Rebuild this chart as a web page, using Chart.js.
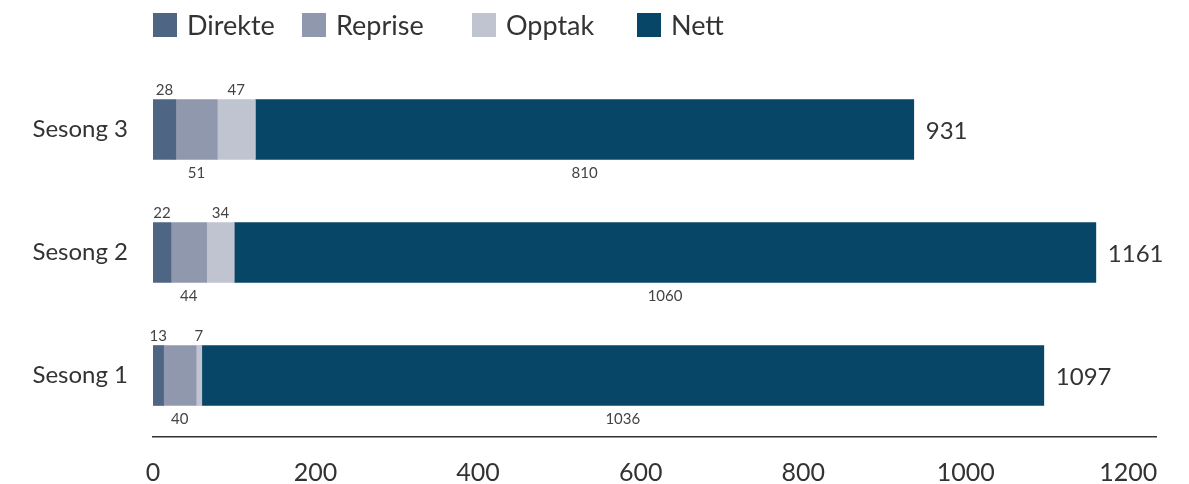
<!DOCTYPE html>
<html lang="no">
<head>
    <meta charset="UTF-8">
    <title>Sesonger</title>
    <script src="https://cdn.jsdelivr.net/npm/chart.js"></script>
    <style>
        body {
            margin: 0;
            background: #ffffff;
            font-family: 'Lato', sans-serif;
        }
        .wrap {
            position: relative;
            width: 1189px;
            height: 484px;
        }
        #legend {
            position: absolute;
            top: 12px;
            left: 153px;
            display: flex;
            color: #333333;
            font-size: 27px;
            line-height: 26px;
        }
        #legend .item {
            display: flex;
            align-items: center;
        }
        #legend .item:nth-child(1) { width: 149px; }
        #legend .item:nth-child(2) { width: 170px; }
        #legend .item:nth-child(3) { width: 165px; }
        #legend .box {
            width: 24px;
            height: 24px;
            margin-right: 10px;
        }
    </style>
</head>
<body>
<div class="wrap">
    <div id="legend"></div>
    <canvas id="chart" width="1189" height="484"></canvas>
</div>
<script>
    // data
    const categories = ['Sesong 3', 'Sesong 2', 'Sesong 1'];
    const seriesNames = ['Direkte', 'Reprise', 'Opptak', 'Nett'];
    const direkte = [28, 22, 13];
    const reprise = [51, 44, 40];
    const opptak = [47, 34, 7];
    const nett = [810, 1060, 1036];
    const totals = [931, 1161, 1097];
    const xTicks = [0, 200, 400, 600, 800, 1000, 1200];

    const colors = ['#4f6584', '#8f98ad', '#c0c4d0', '#084667'];
    // where each series' value label goes: above or below the bar
    const labelSide = ['above', 'below', 'above', 'below'];

    // legend
    const legendEl = document.getElementById('legend');
    seriesNames.forEach((name, i) => {
        const item = document.createElement('div');
        item.className = 'item';
        item.innerHTML = '<span class="box" style="background:' + colors[i] + '"></span>' + name;
        legendEl.appendChild(item);
    });

    // draws the small numbers on the segments and the totals
    const valueLabels = {
        id: 'valueLabels',
        afterDatasetsDraw(chart) {
            const ctx = chart.ctx;
            ctx.save();
            ctx.fillStyle = '#444444';
            ctx.font = '15px Lato';
            ctx.textAlign = 'center';
            chart.data.datasets.forEach((ds, di) => {
                const meta = chart.getDatasetMeta(di);
                meta.data.forEach((bar, i) => {
                    const cx = (bar.x + bar.base) / 2;
                    if (labelSide[di] === 'above') {
                        ctx.textBaseline = 'bottom';
                        ctx.fillText(ds.data[i], cx, bar.y - bar.height / 2 - 2);
                    } else {
                        ctx.textBaseline = 'top';
                        ctx.fillText(ds.data[i], cx, bar.y + bar.height / 2 + 6);
                    }
                });
            });
            // totals at the end of each bar
            const last = chart.getDatasetMeta(chart.data.datasets.length - 1);
            ctx.font = '24px Lato';
            ctx.fillStyle = '#333333';
            ctx.textAlign = 'left';
            ctx.textBaseline = 'middle';
            last.data.forEach((bar, i) => {
                ctx.fillText(totals[i], bar.x + 12, bar.y + 2);
            });
            ctx.restore();
        }
    };

    const datasets = [direkte, reprise, opptak, nett].map((vals, i) => ({
        label: seriesNames[i],
        data: vals,
        backgroundColor: colors[i],
        borderWidth: 0,
        barThickness: 60
    }));

    new Chart(document.getElementById('chart'), {
        type: 'bar',
        data: { labels: categories, datasets: datasets },
        plugins: [valueLabels],
        options: {
            indexAxis: 'y',
            responsive: false,
            animation: false,
            layout: { padding: { top: 68, right: 33, left: 0, bottom: 0 } },
            plugins: {
                legend: { display: false },
                tooltip: { enabled: false }
            },
            scales: {
                x: {
                    stacked: true,
                    min: 0,
                    max: 1234,
                    grid: { display: false },
                    border: { display: true, color: '#333333', width: 1.5 },
                    afterBuildTicks: (scale) => { scale.ticks = xTicks.map(v => ({ value: v })); },
                    afterFit: (scale) => { scale.height = 47; },
                    ticks: {
                        color: '#333333',
                        font: { family: 'Lato', size: 25 },
                        padding: 13,
                        maxRotation: 0,
                        callback: (v) => String(v)
                    }
                },
                y: {
                    stacked: true,
                    grid: { display: false },
                    border: { display: false },
                    afterFit: (scale) => { scale.width = 153; },
                    ticks: {
                        color: '#333333',
                        font: { family: 'Lato', size: 24 },
                        padding: 17
                    }
                }
            }
        }
    });
</script>
</body>
</html>
